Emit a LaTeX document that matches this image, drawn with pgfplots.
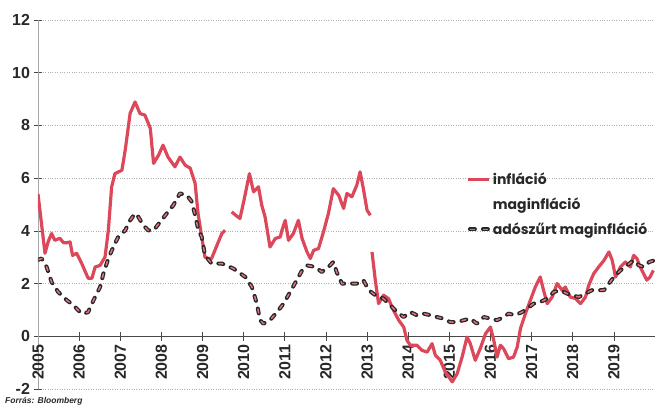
\documentclass[border=0pt]{standalone}
\usepackage{fontspec}
\setmainfont{Liberation Sans}
\newfontfamily\legfont{Poppins}
\usepackage{pgfplots}
\usepackage{pgfplotstable}
\pgfplotsset{compat=1.18}
\definecolor{infred}{RGB}{220,72,90}
\definecolor{dashpink}{RGB}{228,115,128}
\definecolor{txt}{RGB}{40,40,40}

\pgfplotstableread{
x y
2005.00 5.40
2005.17 3.15
2005.25 3.60
2005.33 3.90
2005.41 3.64
2005.53 3.72
2005.62 3.55
2005.70 3.55
2005.78 3.58
2005.84 3.07
2005.94 3.15
2006.06 2.77
2006.15 2.45
2006.22 2.20
2006.31 2.20
2006.39 2.63
2006.51 2.69
2006.63 3.01
2006.71 4.02
2006.79 5.67
2006.87 6.17
2007.04 6.30
2007.12 7.06
2007.24 8.46
2007.36 8.89
2007.48 8.45
2007.60 8.39
2007.73 7.89
2007.81 6.56
2007.93 6.87
2008.04 7.25
2008.16 6.80
2008.33 6.43
2008.45 6.80
2008.58 6.49
2008.70 6.38
2008.82 5.80
2008.89 4.67
2008.98 3.77
2009.06 3.00
2009.14 2.95
2009.22 2.95
2009.35 3.45
2009.47 3.90
2009.55 4.02
2009.60 nan
2009.71 4.72
2009.80 4.60
2009.91 4.47
2010.00 5.10
2010.14 6.17
2010.24 5.48
2010.36 5.67
2010.44 4.97
2010.52 4.53
2010.64 3.39
2010.77 3.71
2010.89 3.77
2010.93 4.02
2011.01 4.40
2011.09 3.64
2011.21 3.90
2011.33 4.40
2011.42 3.71
2011.54 3.20
2011.62 2.95
2011.70 3.26
2011.82 3.33
2011.94 3.96
2012.06 4.66
2012.18 5.60
2012.31 5.35
2012.43 4.85
2012.51 5.42
2012.63 5.29
2012.75 5.73
2012.83 6.24
2012.91 5.60
2013.00 4.78
2013.08 4.59
2013.10 nan
2013.12 3.20
2013.20 2.13
2013.28 1.24
2013.40 1.56
2013.52 1.43
2013.64 0.99
2013.77 0.61
2013.89 0.35
2013.97 -0.15
2014.05 -0.34
2014.21 -0.34
2014.33 -0.53
2014.46 -0.60
2014.58 -0.28
2014.66 -0.72
2014.78 -0.91
2014.90 -1.35
2015.07 -1.73
2015.19 -1.42
2015.31 -0.79
2015.43 -0.03
2015.51 -0.28
2015.63 -0.91
2015.75 -0.47
2015.88 0.10
2016.00 0.35
2016.08 -0.15
2016.16 -0.79
2016.24 -0.34
2016.32 -0.47
2016.44 -0.85
2016.56 -0.79
2016.65 -0.41
2016.73 0.30
2016.85 0.86
2016.97 1.37
2017.09 1.87
2017.21 2.25
2017.29 1.75
2017.38 1.24
2017.50 1.49
2017.62 2.00
2017.74 1.75
2017.82 1.87
2017.94 1.49
2018.07 1.43
2018.19 1.24
2018.31 1.49
2018.39 1.94
2018.51 2.38
2018.63 2.63
2018.76 2.88
2018.88 3.20
2018.96 2.88
2019.04 2.25
2019.16 2.63
2019.28 2.82
2019.40 2.63
2019.48 3.07
2019.56 2.95
2019.64 2.63
2019.72 2.38
2019.80 2.13
2019.88 2.25
2019.96 2.50
}\infl

\pgfplotstableread{
x y
2005.00 2.90
2005.09 2.95
2005.21 2.63
2005.33 2.06
2005.49 1.68
2005.70 1.37
2005.86 1.18
2006.02 0.92
2006.10 0.85
2006.22 0.92
2006.35 1.37
2006.51 1.87
2006.59 2.38
2006.71 2.95
2006.83 3.39
2006.95 3.77
2007.12 4.02
2007.24 4.40
2007.36 4.66
2007.44 4.53
2007.56 4.21
2007.68 4.02
2007.81 4.02
2007.97 4.34
2008.13 4.66
2008.29 4.97
2008.45 5.42
2008.62 5.35
2008.74 5.10
2008.82 4.59
2008.90 4.02
2008.98 3.77
2009.06 3.07
2009.22 2.76
2009.47 2.76
2009.75 2.57
2010.04 2.25
2010.20 1.87
2010.32 1.24
2010.40 0.61
2010.48 0.48
2010.64 0.61
2010.81 0.92
2010.97 1.24
2011.13 1.68
2011.29 2.13
2011.42 2.50
2011.54 2.69
2011.74 2.63
2011.90 2.44
2012.06 2.63
2012.18 2.82
2012.26 2.44
2012.39 2.00
2012.55 2.00
2012.75 2.00
2012.91 2.13
2013.04 1.75
2013.20 1.56
2013.40 1.43
2013.56 1.18
2013.73 0.92
2013.89 0.73
2014.05 0.92
2014.21 0.80
2014.37 0.86
2014.54 0.80
2014.70 0.73
2014.86 0.67
2015.02 0.54
2015.19 0.54
2015.35 0.61
2015.51 0.67
2015.67 0.48
2015.84 0.73
2016.00 0.67
2016.16 0.61
2016.32 0.73
2016.44 0.86
2016.60 0.80
2016.77 0.92
2016.89 1.05
2017.05 1.24
2017.21 1.30
2017.38 1.43
2017.54 1.68
2017.70 1.75
2017.86 1.62
2017.98 1.56
2018.15 1.49
2018.31 1.62
2018.47 1.75
2018.63 1.75
2018.76 1.75
2018.88 2.00
2019.00 2.25
2019.16 2.50
2019.32 2.69
2019.48 2.88
2019.61 2.69
2019.73 2.63
2019.86 2.82
2019.98 2.88
}\core

\begin{document}
\begin{tikzpicture}
\useasboundingbox (-38pt,-18pt) rectangle (617pt,389pt);
\begin{axis}[
  name=ax,
  scale only axis, width=617pt, height=369pt,
  xmin=2005, xmax=2020, ymin=-2, ymax=12,
  axis x line=middle, axis y line=left, axis line style={-},
  x axis line style={txt!85, line width=0.6pt},
  y axis line style={gray!70, line width=0.8pt},
  xtick={2005,...,2019}, ytick={-2,0,...,12},
  x tick label style={/pgf/number format/1000 sep={}, rotate=90, anchor=east, font=\bfseries\fontsize{16}{16}\selectfont, text=txt},
  y tick label style={font=\bfseries\fontsize{16}{16}\selectfont, text=txt},
  /pgf/number format/assume math mode=true,
  tick align=center, major tick length=9pt,
  tick style={txt!85, line width=0.6pt},
  ymajorgrids, grid style={gray!60, dotted, line width=0.7pt},
  hide obscured x ticks=false, hide obscured y ticks=false,
  unbounded coords=jump,
  legend style={at={(rel axis cs:0.689,0.598)}, anchor=north west, draw=none, fill=none,
    font=\legfont\bfseries\fontsize{14}{16}\selectfont, text=txt, row sep=8pt,
    cells={anchor=west}},
  legend image code/.code={\draw[#1] (0pt,0pt) -- (21pt,0pt);},
]
\addplot[infred, line width=3.2pt, line join=round, forget plot] table {\infl};
\addplot[txt, line width=4pt, line cap=round, line join=round, dash pattern=on 5pt off 8pt, forget plot] table {\core};
\addplot[dashpink, line width=1.5pt, line cap=round, line join=round, dash pattern=on 4pt off 9pt, dash phase=12.5pt, forget plot] table {\core};
\addlegendimage{infred, line width=3.2pt}
\addlegendentry{infláció}
\addlegendimage{empty legend}
\addlegendentry{maginfláció}
\addlegendimage{legend image code/.code={
  \draw[txt, line width=4pt, line cap=round, dash pattern=on 5pt off 8pt] (2pt,0pt)--(21pt,0pt);
  \draw[dashpink, line width=1.5pt, line cap=round, dash pattern=on 4pt off 9pt, dash phase=12.5pt] (2pt,0pt)--(21pt,0pt);}}
\addlegendentry{adószűrt maginfláció}
\end{axis}
\node[anchor=west, font=\bfseries\itshape\fontsize{8.5}{9}\selectfont, text=txt, inner sep=0pt] at (-33pt,-12pt) {Forrás: Bloomberg};
\end{tikzpicture}
\end{document}
